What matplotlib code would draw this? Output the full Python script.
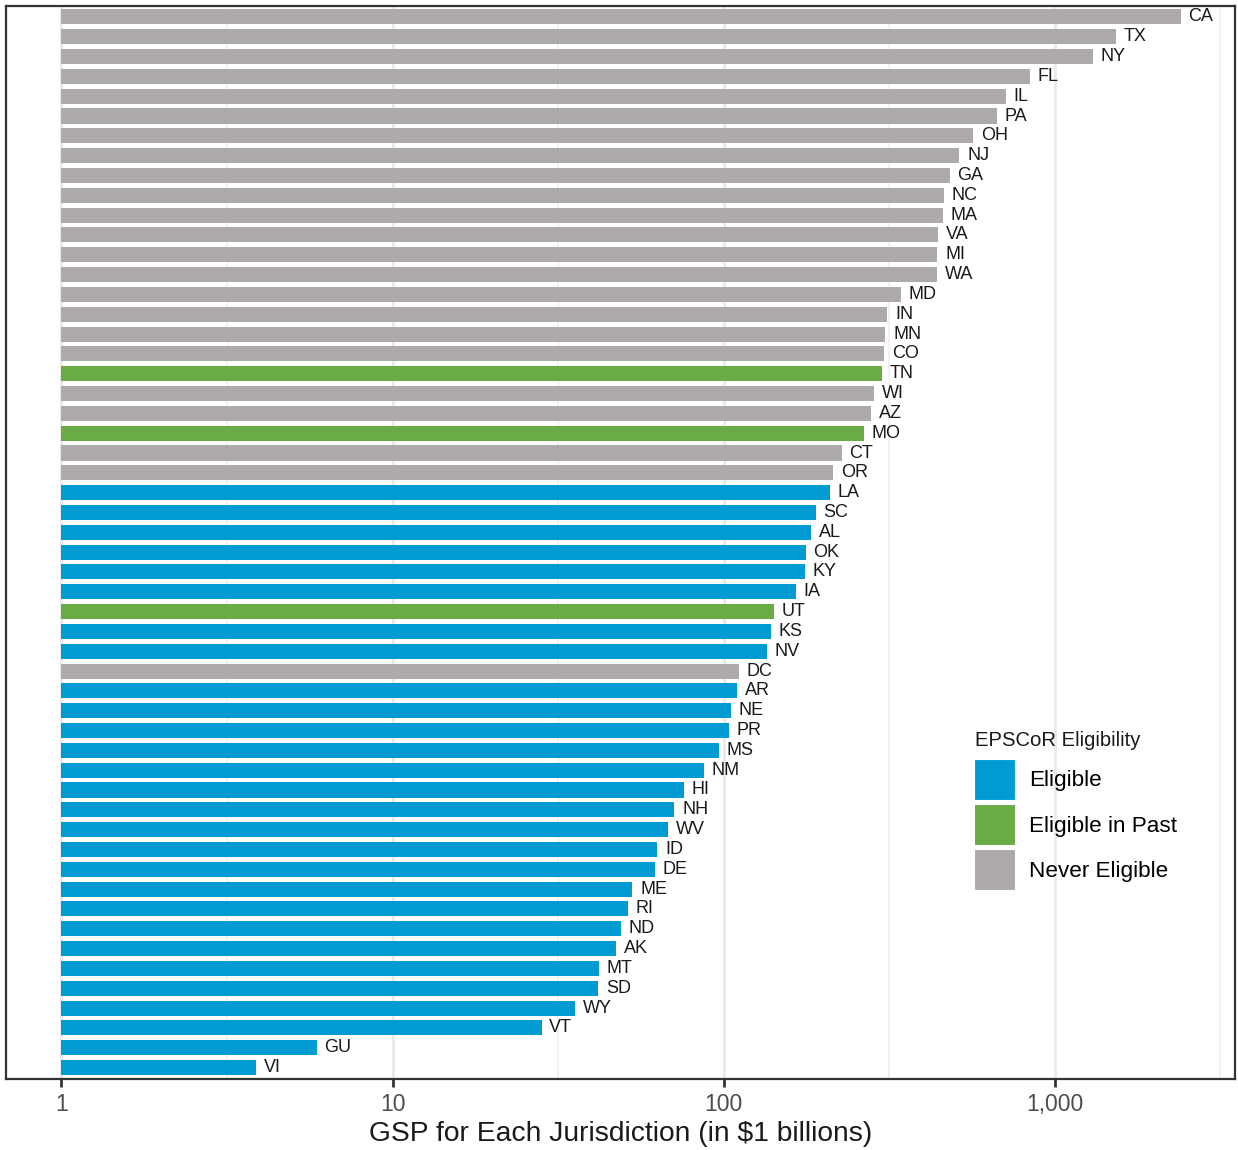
import numpy as np
import matplotlib
matplotlib.use("Agg")
import matplotlib.pyplot as plt
from matplotlib.patches import Patch
from matplotlib.ticker import FixedLocator, FuncFormatter, NullFormatter

plt.rcParams["font.family"] = ["Liberation Sans", "DejaVu Sans"]

# Jurisdictions, top to bottom
states = [
    "CA", "TX", "NY", "FL", "IL", "PA", "OH", "NJ", "GA", "NC", "MA", "VA",
    "MI", "WA", "MD", "IN", "MN", "CO", "TN", "WI", "AZ", "MO", "CT", "OR",
    "LA", "SC", "AL", "OK", "KY", "IA", "UT", "KS", "NV", "DC", "AR", "NE",
    "PR", "MS", "NM", "HI", "NH", "WV", "ID", "DE", "ME", "RI", "ND", "AK",
    "MT", "SD", "WY", "VT", "GU", "VI",
]
# GSP in $ billions
gsp = [
    2404, 1531, 1306, 841, 710, 668, 567, 515, 482, 463, 459, 445,
    442, 441, 343, 312, 308, 305, 300, 284, 279, 265, 227, 214,
    209, 190, 184, 177, 176, 165, 142, 139, 135, 111, 110, 105,
    104, 97, 87, 76, 71, 68, 63, 62, 53, 51.5, 49, 47.4,
    42, 41.8, 35.6, 28.2, 5.9, 3.88,
]
# 0 = Eligible, 1 = Eligible in Past, 2 = Never Eligible
status = [
    2, 2, 2, 2, 2, 2, 2, 2, 2, 2, 2, 2,
    2, 2, 2, 2, 2, 2, 1, 2, 2, 1, 2, 2,
    0, 0, 0, 0, 0, 0, 1, 0, 0, 2, 0, 0,
    0, 0, 0, 0, 0, 0, 0, 0, 0, 0, 0, 0,
    0, 0, 0, 0, 0, 0,
]
groups = ["Eligible", "Eligible in Past", "Never Eligible"]
colors = ["#009bd2", "#6aab46", "#adaaa9"]

n = len(states)
ypos = np.arange(n, 0, -1)
vals = np.array(gsp, dtype=float)

fig = plt.figure(figsize=(12.38, 11.5), dpi=100)
ax = fig.add_axes([6 / 1238, 71 / 1150, 1229 / 1238, 1073 / 1150])

ax.set_xscale("log")
ax.barh(ypos, vals - 1, left=1, height=0.76,
        color=[colors[s] for s in status], linewidth=0, zorder=2)

for y, v, s in zip(ypos, vals, states):
    ax.annotate(s, (v, y), xytext=(5.5, 0), textcoords="offset points",
                ha="left", va="center", fontsize=13, color="#1a1a1a")

ax.set_xlim(0.68, 3500)
ax.set_ylim(0.42, n + 0.55)

ax.xaxis.set_major_locator(FixedLocator([1, 10, 100, 1000]))
ax.xaxis.set_minor_locator(FixedLocator([10 ** 0.5, 10 ** 1.5, 10 ** 2.5, 10 ** 3.5]))
ax.xaxis.set_major_formatter(FuncFormatter(lambda x, p: f"{x:,.0f}"))
ax.xaxis.set_minor_formatter(NullFormatter())
ax.grid(True, which="major", axis="x", color="#ebebeb", linewidth=2.2, zorder=0)
ax.grid(True, which="minor", axis="x", color="#f0f0f0", linewidth=1.2, zorder=0)
ax.set_axisbelow(True)

ax.tick_params(axis="x", which="major", length=6, width=2, color="#333333",
               labelsize=16.5, labelcolor="#4d4d4d", pad=4)
ax.tick_params(axis="x", which="minor", length=0)
ax.tick_params(axis="y", left=False, labelleft=False)

for sp in ax.spines.values():
    sp.set_color("#333333")
    sp.set_linewidth(1.6)

ax.set_xlabel("GSP for Each Jurisdiction (in $1 billions)", fontsize=20.3,
              color="#1a1a1a", labelpad=4)

# legend title placed on its own so the gap to the keys matches
fig.text(975 / 1238, 1 - 740 / 1150, "EPSCoR Eligibility", fontsize=14.6,
         color="#1a1a1a", ha="left", va="center")

# square legend keys, ggplot-style
handles = [Patch(facecolor=c, edgecolor="white", linewidth=0.8) for c in colors]
leg = fig.legend(handles, groups,
                 loc="upper left", bbox_to_anchor=(974 / 1238, 1 - 759 / 1150),
                 frameon=False, fontsize=16.2,
                 handlelength=1.83, handleheight=2.43, handletextpad=0.6,
                 labelspacing=0.18, borderpad=0, borderaxespad=0)

fig.savefig("out.png", dpi=100)
